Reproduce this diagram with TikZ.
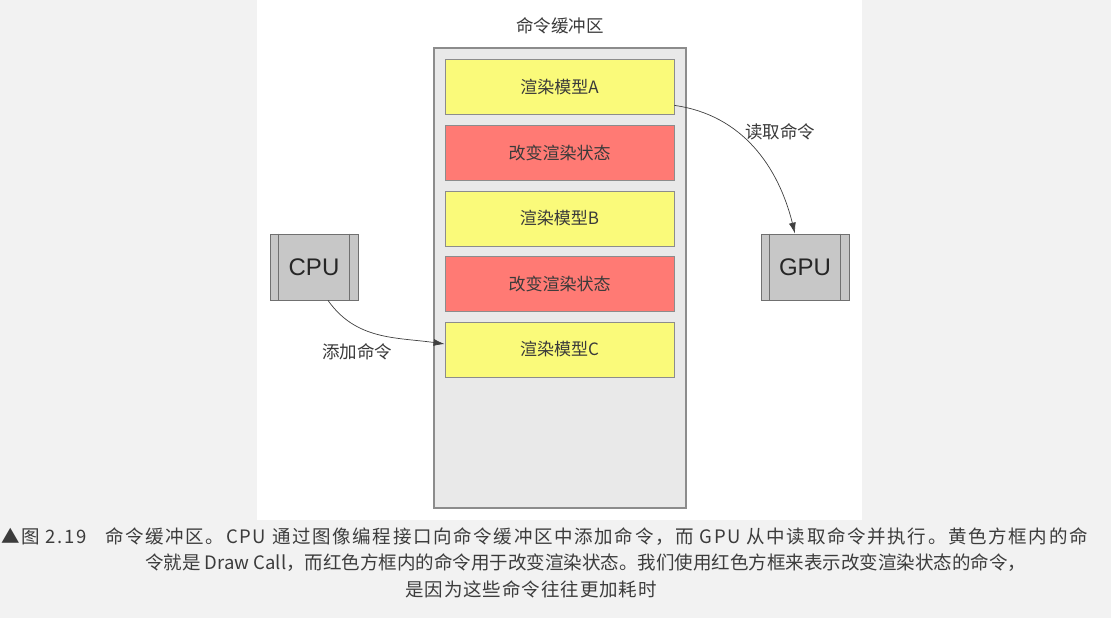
\documentclass[tikz,border=0pt]{standalone}
\usepackage{fontspec}
\setmainfont{Noto Sans CJK SC}
\newfontfamily\latf{Liberation Sans}
\newfontfamily\capwide[LetterSpace=9]{Noto Sans CJK SC}
\newfontfamily\capmid[LetterSpace=5]{Noto Sans CJK SC}
\usetikzlibrary{arrows.meta}
\definecolor{bgpage}{HTML}{F2F2F2}
\definecolor{bufbg}{HTML}{E9E9E9}
\definecolor{bufline}{HTML}{8C8C8C}
\definecolor{yel}{HTML}{FAFA7A}
\definecolor{redb}{HTML}{FF7A74}
\definecolor{procbg}{HTML}{C7C7C7}
\definecolor{procline}{HTML}{707070}
\definecolor{txt}{HTML}{3A3A3A}
\definecolor{captxt}{HTML}{3C3C3C}
\tikzset{
  cmdbox/.style={draw=bufline, line width=0.8pt, minimum width=229pt, minimum height=55pt, inner sep=0pt, font=\fontsize{17}{20}\selectfont, text=txt},
  yelbox/.style={cmdbox, fill=yel},
  redbox/.style={cmdbox, fill=redb},
  procbox/.style={draw=procline, fill=procbg, line width=0.8pt, minimum width=88pt, minimum height=66pt, inner sep=0pt, font=\latf\fontsize{24}{28}\selectfont, text=black!85},
  lbl/.style={font=\fontsize{17.5}{20}\selectfont, text=txt},
  arr/.style={-{Latex[length=11pt,width=7pt]}, draw=black!75, line width=0.7pt},
  captionline/.style={font=\fontsize{18.5}{22}\selectfont, text=captxt, anchor=west, inner sep=0pt}
}
\begin{document}
\begin{tikzpicture}[x=1pt,y=-1pt]
\useasboundingbox (0,0) rectangle (1111,618);
\fill[bgpage] (0,0) rectangle (1111,618);
\fill[white] (257,0) rectangle (862,520);
% buffer
\node[draw=bufline, fill=bufbg, line width=1.2pt, minimum width=252pt, minimum height=460pt, inner sep=0pt] (buf) at (560,278) {};
\node[lbl] (title) at (560,26) {命令缓冲区};
\node[yelbox] (ba) at (559.5,87) {渲染模型A};
\node[redbox] (r1) at (559.5,152.5) {改变渲染状态};
\node[yelbox] (bb) at (559.5,218.5) {渲染模型B};
\node[redbox] (r2) at (559.5,283.5) {改变渲染状态};
\node[yelbox] (bc) at (559.5,349.5) {渲染模型C};
% processors
\node[procbox] (cpu) at (314,267) {CPU};
\draw[procline, line width=0.8pt] ([xshift=9pt]cpu.north west) -- ([xshift=9pt]cpu.south west)
  ([xshift=-9pt]cpu.north east) -- ([xshift=-9pt]cpu.south east);
\node[procbox] (gpu) at (805,267) {GPU};
\draw[procline, line width=0.8pt] ([xshift=9pt]gpu.north west) -- ([xshift=9pt]gpu.south west)
  ([xshift=-9pt]gpu.north east) -- ([xshift=-9pt]gpu.south east);
% arrows
\draw[arr] ([xshift=14pt]cpu.south) to[out=-55, in=172] ([yshift=5.5pt]bc.west);
\node[lbl] (add) at (357,352) {添加命令};
\draw[arr] ([yshift=9.5pt]ba.south east) to[out=-8, in=104] ([xshift=-10pt]gpu.north);
\node[lbl] (read) at (780,132) {读取命令};
% caption
\node[captionline] (c1) at (1,537) {\capwide ▲图 2.19\hspace{1em}命令缓冲区。CPU 通过图像编程接口向命令缓冲区中添加命令，而 GPU 从中读取命令并执行。黄色方框内的命};
\node[captionline] (c2) at (145,563) {令就是 Draw Call，而红色方框内的命令用于改变渲染状态。我们使用红色方框来表示改变渲染状态的命令，};
\node[captionline] (c3) at (405,589) {\capmid 是因为这些命令往往更加耗时};
\end{tikzpicture}
\end{document}
